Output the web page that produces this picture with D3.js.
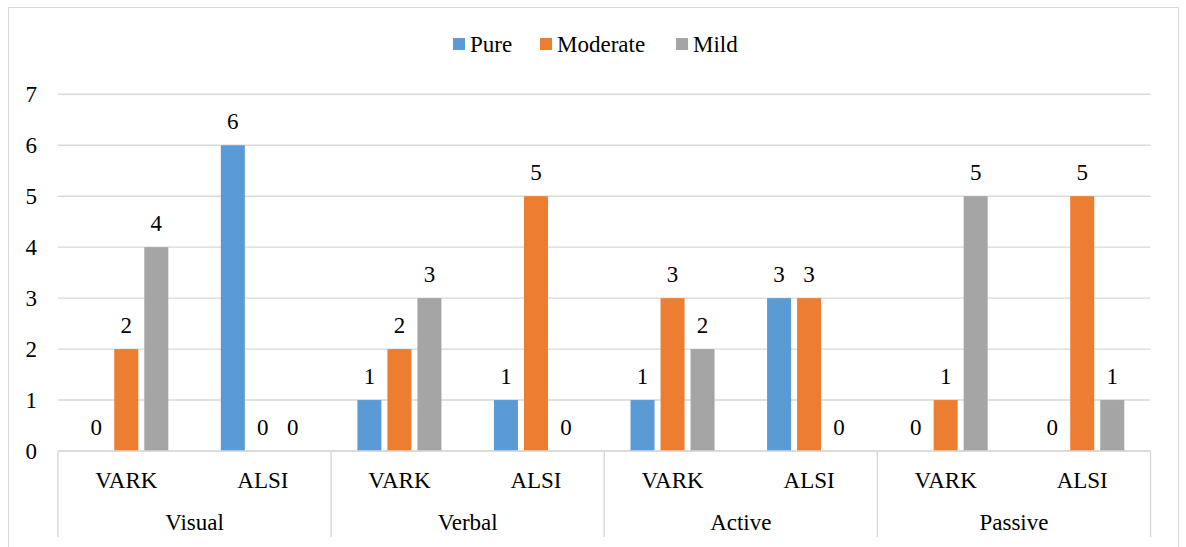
<!DOCTYPE html>
<html>
<head>
<meta charset="utf-8">
<script src="https://cdn.jsdelivr.net/npm/d3@7"></script>
<style>
  body { margin: 0; background: #fff; }
</style>
</head>
<body>
<svg id="chart"></svg>
<script>
const width = 1186;
const height = 547;

// data
const groups = ["Visual", "Verbal", "Active", "Passive"];
const instruments = ["VARK", "ALSI"];
const seriesNames = ["Pure", "Moderate", "Mild"];
const pure     = [0, 6, 1, 1, 1, 3, 0, 0];
const moderate = [2, 0, 2, 5, 3, 3, 1, 5];
const mild     = [4, 0, 3, 0, 2, 0, 5, 1];
const yTicks = [0, 1, 2, 3, 4, 5, 6, 7];

const colors = {Pure: "#5B9BD5", Moderate: "#ED7D31", Mild: "#A5A5A5"};
const values = {Pure: pure, Moderate: moderate, Mild: mild};

// flat list of sub categories
const subcats = [];
groups.forEach(g => instruments.forEach(i => subcats.push({group: g, inst: i, key: g + "-" + i})));

const svg = d3.select("#chart").attr("width", width).attr("height", height)
  .attr("font-family", "'Liberation Serif', 'Times New Roman', 'DejaVu Serif', serif")
  .style("font-family", "'Liberation Serif', 'Times New Roman', serif");

// chart frame
svg.append("rect")
  .attr("x", 8.5).attr("y", 7.5)
  .attr("width", 1170).attr("height", 560)
  .attr("fill", "none").attr("stroke", "#d9d9d9").attr("stroke-width", 1);

const left = 58, right = 1150.5;

const x0 = d3.scaleBand().domain(subcats.map(d => d.key)).range([left, right]).padding(0);
const x1 = d3.scaleBand().domain(seriesNames).range([0, x0.bandwidth()])
  .paddingInner(0.2).paddingOuter(0.875);
const y = d3.scaleLinear().domain([0, 7]).range([451, 94.3]);

// gridlines
svg.append("g").selectAll("line").data(yTicks).enter().append("line")
  .attr("x1", left).attr("x2", right)
  .attr("y1", d => y(d)).attr("y2", d => y(d))
  .attr("stroke", "#d9d9d9").attr("stroke-width", 1.4);

// y labels
svg.append("g").selectAll("text").data(yTicks).enter().append("text")
  .attr("x", 37).attr("y", d => y(d)).attr("dy", "0.35em")
  .attr("text-anchor", "end").attr("font-size", 23)
  .text(d => d);

// bars
const rows = [];
subcats.forEach((s, i) => seriesNames.forEach(n => rows.push({key: s.key, series: n, value: values[n][i]})));

svg.append("g").selectAll("rect").data(rows).enter().append("rect")
  .attr("x", d => x0(d.key) + x1(d.series))
  .attr("y", d => y(d.value))
  .attr("width", x1.bandwidth())
  .attr("height", d => y(0) - y(d.value))
  .attr("fill", d => colors[d.series]);

// value labels
svg.append("g").selectAll("text").data(rows).enter().append("text")
  .attr("x", d => x0(d.key) + x1(d.series) + x1.bandwidth() / 2)
  .attr("y", d => y(d.value) - 16)
  .attr("text-anchor", "middle").attr("font-size", 23)
  .text(d => d.value);

// x axis baseline
svg.append("line")
  .attr("x1", left).attr("x2", right).attr("y1", y(0)).attr("y2", y(0))
  .attr("stroke", "#d9d9d9").attr("stroke-width", 1.4);

// group separators
const seps = groups.map(g => x0(g + "-VARK")).concat([right]);
svg.append("g").selectAll("line").data(seps).enter().append("line")
  .attr("x1", d => d).attr("x2", d => d)
  .attr("y1", y(0)).attr("y2", 537)
  .attr("stroke", "#d9d9d9").attr("stroke-width", 1.4);

// sub category labels
svg.append("g").selectAll("text").data(subcats).enter().append("text")
  .attr("x", d => x0(d.key) + x0.bandwidth() / 2)
  .attr("y", 488)
  .attr("text-anchor", "middle").attr("font-size", 23)
  .text(d => d.inst);

// group labels
svg.append("g").selectAll("text").data(groups).enter().append("text")
  .attr("x", g => x0(g + "-VARK") + x0.bandwidth())
  .attr("y", 530)
  .attr("text-anchor", "middle").attr("font-size", 23)
  .text(g => g);

// legend
const legendX = [453, 540, 676];
const legend = svg.append("g").selectAll("g").data(seriesNames).enter().append("g")
  .attr("transform", (d, i) => `translate(${legendX[i]},38)`);
legend.append("rect").attr("width", 12).attr("height", 12).attr("fill", d => colors[d]);
legend.append("text").attr("x", 17).attr("y", 14).attr("font-size", 23).text(d => d);
</script>
</body>
</html>
